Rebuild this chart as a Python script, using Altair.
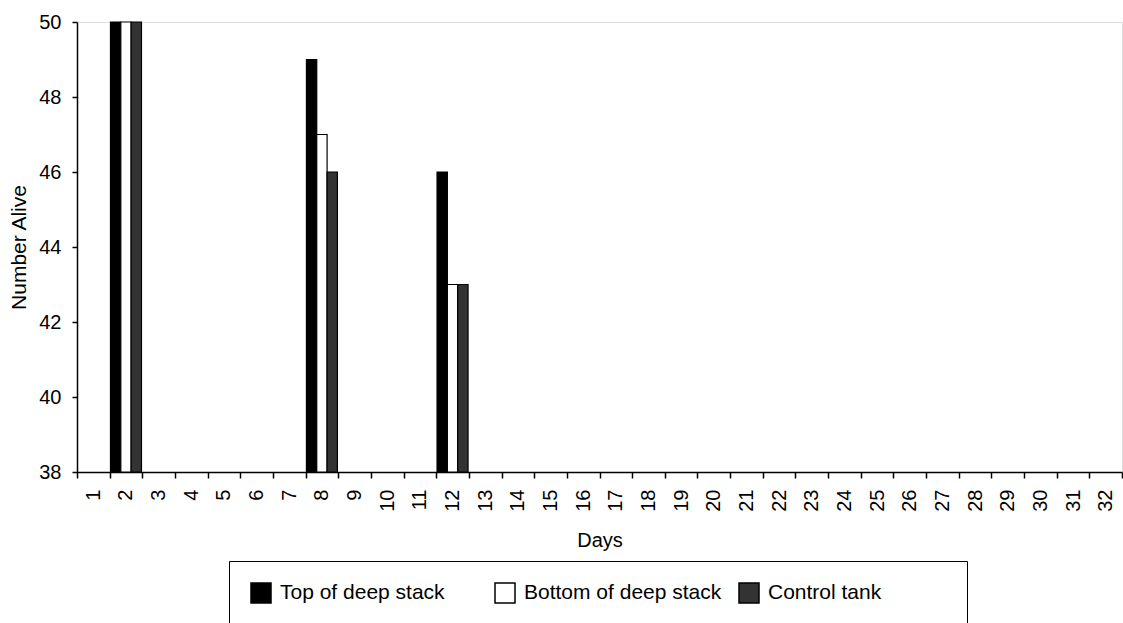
import altair as alt
import pandas as pd

days = list(range(1, 33))
series = ["Top of deep stack", "Bottom of deep stack", "Control tank"]
obs_days = [2, 8, 12]
top_vals = [50, 49, 46]
bottom_vals = [50, 47, 43]
control_vals = [50, 46, 43]
colors = ["#000000", "#ffffff", "#333333"]

rows = []
for i, d in enumerate(obs_days):
    rows.append({"Day": d, "Series": series[0], "Alive": top_vals[i]})
    rows.append({"Day": d, "Series": series[1], "Alive": bottom_vals[i]})
    rows.append({"Day": d, "Series": series[2], "Alive": control_vals[i]})
df = pd.DataFrame(rows)

FONT = "Liberation Sans"
W, H = 1045, 450

chart = alt.Chart(df).mark_bar(stroke="black", strokeWidth=1.2).encode(
    x=alt.X("Day:O",
            scale=alt.Scale(domain=days, paddingInner=0, paddingOuter=0),
            axis=alt.Axis(title="Days", labelAngle=270, labelFontSize=20,
                          labelFont=FONT, labelColor="black", labelPadding=11,
                          tickBand="extent", tickSize=6, tickColor="black",
                          tickWidth=1.5, domainColor="black", domainWidth=1.5,
                          titleFont=FONT, titleFontSize=20, titleFontWeight="normal",
                          titleColor="black", titleBaseline="middle", titleY=68)),
    xOffset=alt.XOffset("Series:N", sort=series,
                        scale=alt.Scale(domain=series, paddingOuter=0.08, paddingInner=0)),
    y=alt.Y("Alive:Q",
            scale=alt.Scale(domain=[38, 50], zero=False, nice=False),
            axis=alt.Axis(title="Number Alive", values=[38, 40, 42, 44, 46, 48, 50],
                          labelFontSize=20, labelFont=FONT, labelColor="black",
                          labelPadding=11, tickSize=5, tickColor="black", tickWidth=1.5,
                          domainColor="black", domainWidth=1.5, grid=False,
                          titleFont=FONT, titleFontSize=21, titleFontWeight="normal",
                          titleColor="black", titleAngle=270, titleAlign="center",
                          titleBaseline="middle", titleX=-58, titleY=H / 2)),
    y2=alt.datum(38),
    color=alt.Color("Series:N", sort=series,
                    scale=alt.Scale(domain=series, range=colors),
                    legend=alt.Legend(title=" ", titleOrient="right", titlePadding=65,
                                      titleFontSize=20,
                                      orient="none", legendX=152, legendY=539,
                                      direction="horizontal", columns=3, gridAlign="all",
                                      columnPadding=14, padding=21,
                                      strokeColor="black", fillColor="white",
                                      symbolType="square", symbolSize=400,
                                      symbolStrokeColor="black", symbolStrokeWidth=1.5,
                                      labelFont=FONT, labelFontSize=21, labelColor="black",
                                      labelOffset=8, labelLimit=400)),
).properties(
    width=W, height=H,
    autosize=alt.AutoSizeParams(type="none"),
    padding={"left": 77, "top": 22, "right": 1, "bottom": 151},
).configure_view(stroke=None).configure(background="white")

chart.save("out.html", embed_options={"renderer": "svg", "actions": False})
